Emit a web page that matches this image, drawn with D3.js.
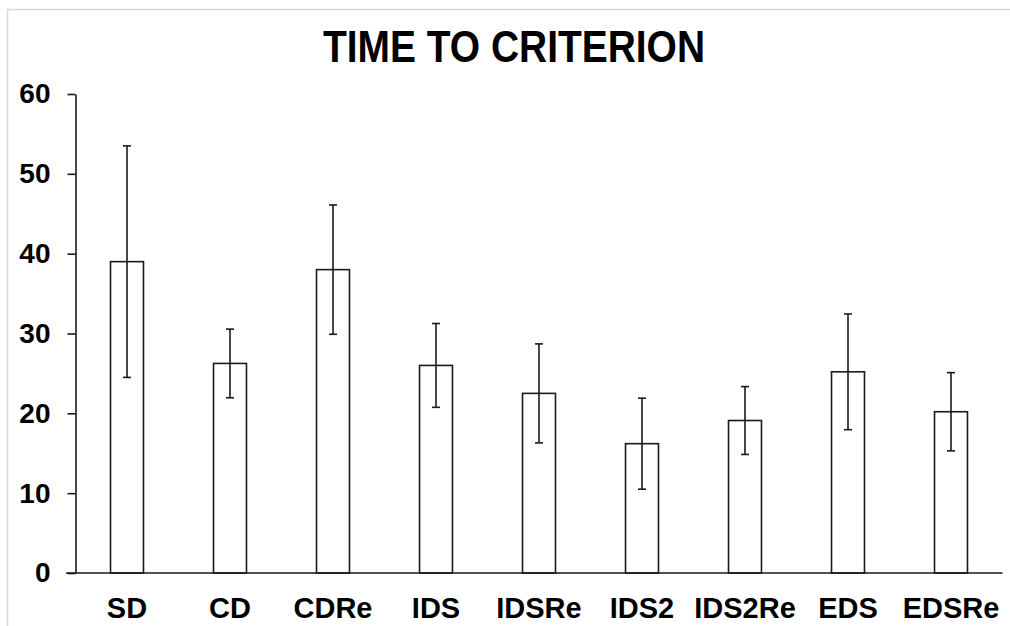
<!DOCTYPE html>
<html>
<head>
<meta charset="utf-8">
<script src="https://cdn.jsdelivr.net/npm/d3@7"></script>
<style>
  html, body { margin: 0; padding: 0; background: #fff; }
  svg { display: block; }
  text { font-family: "Liberation Sans", Arial, sans-serif; font-weight: bold; fill: #000; }
</style>
</head>
<body>
<svg id="chart" width="1010" height="626"></svg>
<script>
// Conditions, mean time to criterion and error (±) per condition
const categories = ["SD", "CD", "CDRe", "IDS", "IDSRe", "IDS2", "IDS2Re", "EDS", "EDSRe"];
const means = [39.0, 26.25, 38.0, 26.0, 22.5, 16.2, 19.1, 25.2, 20.2];
const errors = [14.5, 4.3, 8.1, 5.25, 6.2, 5.7, 4.25, 7.25, 4.9];
const yTicks = [0, 10, 20, 30, 40, 50, 60];
const title = "TIME TO CRITERION";

const svg = d3.select("#chart");
const W = 1010, H = 626;
const margin = { left: 75.5, right: 7.5, top: 94, bottom: 53 };

// Outer frame
svg.append("rect")
  .attr("x", 7.5).attr("y", 9.5)
  .attr("width", W + 20).attr("height", H + 20)
  .attr("fill", "none")
  .attr("stroke", "#d9d9d9")
  .attr("stroke-width", 1.5);

const x = d3.scaleBand()
  .domain(categories)
  .range([margin.left, W - margin.right])
  .paddingInner(0.68)
  .paddingOuter(0.34);

const y = d3.scaleLinear()
  .domain([0, 60])
  .range([H - margin.bottom, margin.top]);

// Title, set slightly condensed
svg.append("text")
  .attr("x", 514).attr("y", 62)
  .attr("text-anchor", "middle")
  .attr("font-size", 44)
  .attr("textLength", 382)
  .attr("lengthAdjust", "spacingAndGlyphs")
  .text(title);

// Bars
svg.append("g").selectAll("rect")
  .data(categories)
  .join("rect")
  .attr("x", d => x(d))
  .attr("width", x.bandwidth())
  .attr("y", (d, i) => y(means[i]))
  .attr("height", (d, i) => y(0) - y(means[i]))
  .attr("fill", "#fff")
  .attr("stroke", "#1a1a1a")
  .attr("stroke-width", 1.6);

// Error bars
const eb = svg.append("g").attr("stroke", "#1a1a1a").attr("stroke-width", 1.6);
categories.forEach((c, i) => {
  const cx = x(c) + x.bandwidth() / 2;
  const hi = y(means[i] + errors[i]), lo = y(means[i] - errors[i]);
  eb.append("line").attr("x1", cx).attr("x2", cx).attr("y1", hi).attr("y2", lo);
  eb.append("line").attr("x1", cx - 4).attr("x2", cx + 4).attr("y1", hi).attr("y2", hi);
  eb.append("line").attr("x1", cx - 4).attr("x2", cx + 4).attr("y1", lo).attr("y2", lo);
});

// Y axis
const yAxis = svg.append("g")
  .attr("transform", `translate(${margin.left},0)`)
  .call(d3.axisLeft(y).tickValues(yTicks).tickSize(8).tickPadding(17).tickSizeOuter(0));
yAxis.select(".domain").attr("stroke", "#1a1a1a").attr("stroke-width", 1.6);
yAxis.selectAll(".tick line").attr("stroke", "#1a1a1a").attr("stroke-width", 1.6);
yAxis.selectAll(".tick text")
  .attr("font-size", 28)
  .attr("font-family", "'Liberation Sans', Arial, sans-serif")
  .attr("font-weight", "bold")
  .attr("fill", "#000");

// X axis baseline
svg.append("line")
  .attr("x1", 66).attr("x2", W - margin.right)
  .attr("y1", y(0)).attr("y2", y(0))
  .attr("stroke", "#1a1a1a").attr("stroke-width", 1.6);

// X labels
svg.append("g").selectAll("text")
  .data(categories)
  .join("text")
  .attr("x", d => x(d) + x.bandwidth() / 2)
  .attr("y", 618)
  .attr("text-anchor", "middle")
  .attr("font-size", 29)
  .text(d => d);
</script>
</body>
</html>
